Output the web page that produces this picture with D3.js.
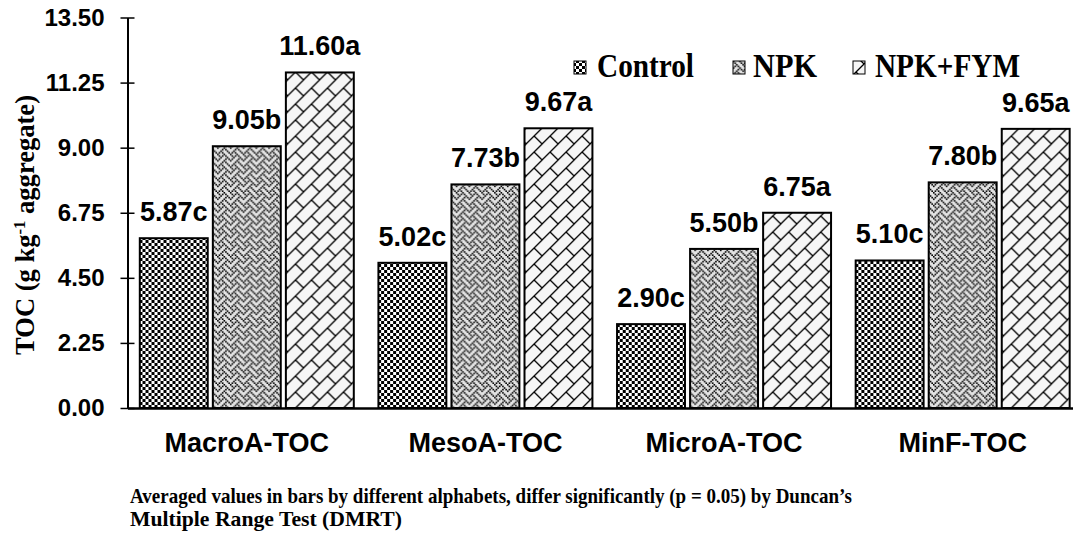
<!DOCTYPE html>
<html><head><meta charset="utf-8">
<script src="https://cdn.jsdelivr.net/npm/d3@7"></script>
<style>body{margin:0;background:#fff}</style>
</head><body>
<svg id="c" width="1073" height="542"></svg>
<script>
const categories = ["MacroA-TOC","MesoA-TOC","MicroA-TOC","MinF-TOC"];
const seriesNames = ["Control","NPK","NPK+FYM"];
const controlVals = [5.87,5.02,2.90,5.10];
const npkVals = [9.05,7.73,5.50,7.80];
const fymVals = [11.60,9.67,6.75,9.65];
const controlLetters = ["c","c","c","c"];
const npkLetters = ["b","b","b","b"];
const fymLetters = ["a","a","a","a"];
const yTicks = [0,2.25,4.5,6.75,9,11.25,13.5];

const seriesVals = [controlVals,npkVals,fymVals];
const seriesLetters = [controlLetters,npkLetters,fymLetters];

const svg = d3.select("#c");
const defs = svg.append("defs");
const SANS = "'Liberation Sans', Arial, sans-serif";
const SERIF = "'Liberation Serif', 'Times New Roman', serif";

function bitmapPattern(id, rows, px, bg) {
  const n = rows.length;
  const p = defs.append("pattern").attr("id", id).attr("patternUnits","userSpaceOnUse")
    .attr("width", n*px).attr("height", n*px);
  p.append("rect").attr("width", n*px).attr("height", n*px).attr("fill", bg);
  rows.forEach((r, j) => {
    for (let i = 0; i < 8; i++) {
      if (r & (0x80 >> i)) p.append("rect").attr("x", i*px).attr("y", j*px).attr("width", px).attr("height", px).attr("fill", "#000");
    }
  });
}
(function(){
  const s = 3;
  const p = defs.append("pattern").attr("id","pControl").attr("patternUnits","userSpaceOnUse").attr("width",2*s).attr("height",2*s);
  p.append("rect").attr("width",2*s).attr("height",2*s).attr("fill","#fff");
  p.append("rect").attr("width",s).attr("height",s).attr("fill","#000");
  p.append("rect").attr("x",s).attr("y",s).attr("width",s).attr("height",s).attr("fill","#000");
})();
bitmapPattern("pNPK", [0x88,0x54,0x22,0x45,0x88,0x14,0x22,0x51], 1.6, "#e4e4e4");
(function(){
  const t = 16;
  const p = defs.append("pattern").attr("id","pFYM").attr("patternUnits","userSpaceOnUse").attr("width",t).attr("height",t);
  p.append("rect").attr("width",t).attr("height",t).attr("fill","#f6f6f6");
  p.append("path").attr("d",`M-2,${t+2}L${t+2},-2 M${t/2},${t/2}L${t+2},${t+2} M-2,2 L2,-2 M${t-2},${t+2}L${t+2},${t-2}`)
    .attr("stroke","#000").attr("stroke-width",1.3).attr("fill","none");
})();
const fills = ["url(#pControl)","url(#pNPK)","url(#pFYM)"];

const x0 = d3.scaleBand().domain(categories).range([127.5, 1082]).padding(0);
const x1 = d3.scaleBand().domain(seriesNames).range([12.3, 226.3]).paddingInner(0.07).paddingOuter(0);
const y = d3.scaleLinear().domain([0, 13.5]).range([408, 17.5]);

const yAxis = d3.axisLeft(y).tickValues(yTicks).tickSize(0).tickFormat(d3.format(".2f"));
const gy = svg.append("g").attr("transform","translate(127.5,0)").call(yAxis);
gy.select(".domain").attr("stroke","#000").attr("stroke-width",2);
gy.selectAll(".tick text").attr("x",-23).attr("font-family",SANS).attr("font-weight","bold").attr("font-size",24).attr("fill","#000");
gy.selectAll(".tick").append("line").attr("x1",-7).attr("x2",7).attr("stroke","#000").attr("stroke-width",1.5);

const groups = svg.append("g").selectAll("g").data(categories).join("g")
  .attr("transform", d => `translate(${x0(d)},0)`);
seriesNames.forEach((s, si) => {
  groups.append("rect")
    .attr("x", x1(s)).attr("width", x1.bandwidth())
    .attr("y", (d,i) => y(seriesVals[si][i]))
    .attr("height", (d,i) => y(0) - y(seriesVals[si][i]))
    .attr("fill", fills[si]).attr("stroke","#000").attr("stroke-width",2);
  groups.append("text")
    .attr("x", x1(s) + x1.bandwidth()/2)
    .attr("y", (d,i) => y(seriesVals[si][i]) - 17)
    .attr("text-anchor","middle").attr("font-family",SANS).attr("font-weight","bold").attr("font-size",27)
    .text((d,i) => seriesVals[si][i].toFixed(2) + seriesLetters[si][i]);
});

const xAxis = d3.axisBottom(x0).tickSize(0).tickPadding(0);
const gx = svg.append("g").attr("transform",`translate(0,${y(0)})`).call(xAxis);
gx.select(".domain").attr("stroke","#000").attr("stroke-width",2.5);
gx.selectAll(".tick text").attr("y",44).attr("dy",0).attr("font-family",SANS).attr("font-weight","bold").attr("font-size",27).attr("fill","#000");

const yt = svg.append("text").attr("transform","translate(34,225) rotate(-90)")
  .attr("text-anchor","middle").attr("font-family",SERIF).attr("font-weight","bold").attr("font-size",27)
  .attr("textLength",260).attr("lengthAdjust","spacingAndGlyphs");
yt.append("tspan").text("TOC (g kg");
yt.append("tspan").attr("dy",-9).attr("font-size",17).text("-1");
yt.append("tspan").attr("dy",9).text(" aggregate)");

const legX = [574, 733, 853];
const legTextX = [597, 753, 875];
const legW = [97, 64, 145];
seriesNames.forEach((s, i) => {
  svg.append("rect").attr("x",legX[i]).attr("y",61).attr("width",12).attr("height",13)
    .attr("fill",fills[i]).attr("stroke","#000").attr("stroke-width",1);
  svg.append("text").attr("x",legTextX[i]).attr("y",77)
    .attr("font-family",SERIF).attr("font-weight","bold").attr("font-size",33)
    .attr("textLength",legW[i]).attr("lengthAdjust","spacingAndGlyphs").text(s);
});

svg.append("text").attr("x",130).attr("y",503).attr("font-family",SERIF).attr("font-weight","bold").attr("font-size",21)
  .attr("textLength",722).attr("lengthAdjust","spacingAndGlyphs")
  .text("Averaged values in bars by different alphabets, differ significantly (p = 0.05) by Duncan\u2019s");
svg.append("text").attr("x",130).attr("y",526).attr("font-family",SERIF).attr("font-weight","bold").attr("font-size",21)
  .attr("textLength",272).attr("lengthAdjust","spacingAndGlyphs")
  .text("Multiple Range Test (DMRT)");
</script>
</body></html>
